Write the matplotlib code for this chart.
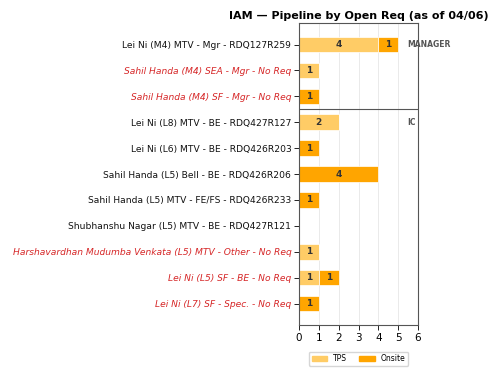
import matplotlib
matplotlib.use("Agg")
import matplotlib.pyplot as plt
from matplotlib.patches import Patch

categories = [
    "Lei Ni (M4) MTV - Mgr - RDQ127R259",
    "Sahil Handa (M4) SEA - Mgr - No Req",
    "Sahil Handa (M4) SF - Mgr - No Req",
    "Lei Ni (L8) MTV - BE - RDQ427R127",
    "Lei Ni (L6) MTV - BE - RDQ426R203",
    "Sahil Handa (L5) Bell - BE - RDQ426R206",
    "Sahil Handa (L5) MTV - FE/FS - RDQ426R233",
    "Shubhanshu Nagar (L5) MTV - BE - RDQ427R121",
    "Harshavardhan Mudumba Venkata (L5) MTV - Other - No Req",
    "Lei Ni (L5) SF - BE - No Req",
    "Lei Ni (L7) SF - Spec. - No Req",
]
no_req = [False, True, True, False, False, False, False, False, True, True, True]
tps = [4, 1, 0, 2, 0, 0, 0, 0, 1, 1, 0]
onsite = [1, 0, 1, 0, 1, 4, 1, 0, 0, 1, 1]
xticks = [0, 1, 2, 3, 4, 5, 6]
title = "IAM — Pipeline by Open Req (as of 04/06)"

c_tps = "#ffcc66"
c_on = "#ffa500"
red = "#d62728"

fig = plt.figure(figsize=(5, 3.78), dpi=100)
ax = fig.add_axes([0.598, 0.140, 0.238, 0.799])

y = list(range(len(categories)))
h = 0.6
b1 = ax.barh(y, tps, height=h, color=c_tps, edgecolor="white", linewidth=0.5, zorder=2)
b2 = ax.barh(y, onsite, left=tps, height=h, color=c_on, edgecolor="white", linewidth=0.5, zorder=2)
for vals, lefts in ((tps, [0]*len(tps)), (onsite, tps)):
    for yi, v, l in zip(y, vals, lefts):
        if v > 0:
            ax.text(l + v / 2, yi, str(v), ha="center", va="center",
                    fontsize=6.5, fontweight="bold", color="#333333", zorder=3)

ax.set_yticks(y)
ax.set_yticklabels(categories, fontsize=6.6)
for lab, nr in zip(ax.get_yticklabels(), no_req):
    if nr:
        lab.set_color(red)
        lab.set_fontstyle("italic")
    else:
        lab.set_color("#111111")
ax.set_ylim(len(categories) - 1 + 0.83, -0.83)
ax.set_xlim(0, 6)
ax.set_xticks(xticks)
ax.tick_params(axis="x", labelsize=7.5, length=3.5, width=0.6, pad=2)
ax.tick_params(axis="y", length=3.5, width=0.6, pad=2)
ax.grid(axis="x", color="#e6e6e6", linewidth=0.6, zorder=0)
ax.set_axisbelow(True)
for s in ax.spines.values():
    s.set_color("#555555")
    s.set_linewidth(0.8)

ax.axhline(2.5, color="#555555", linewidth=0.8, zorder=4)
ax.text(5.45, 0, "MANAGER", fontsize=5.5, fontweight="bold", color="#555555",
        va="center", ha="left", clip_on=False)
ax.text(5.45, 3, "IC", fontsize=5.5, fontweight="bold", color="#555555",
        va="center", ha="left", clip_on=False)

ax.set_title(title, fontsize=8, fontweight="bold", pad=3)

handles = [Patch(color=c_tps, label="TPS"), Patch(color=c_on, label="Onsite")]
ax.legend(handles=handles, loc="upper center", bbox_to_anchor=(0.5, -0.075),
          ncol=2, fontsize=5.5, frameon=True, handlelength=2.0, columnspacing=1.6,
          borderpad=0.35)

fig.savefig("out.png", dpi=100)
